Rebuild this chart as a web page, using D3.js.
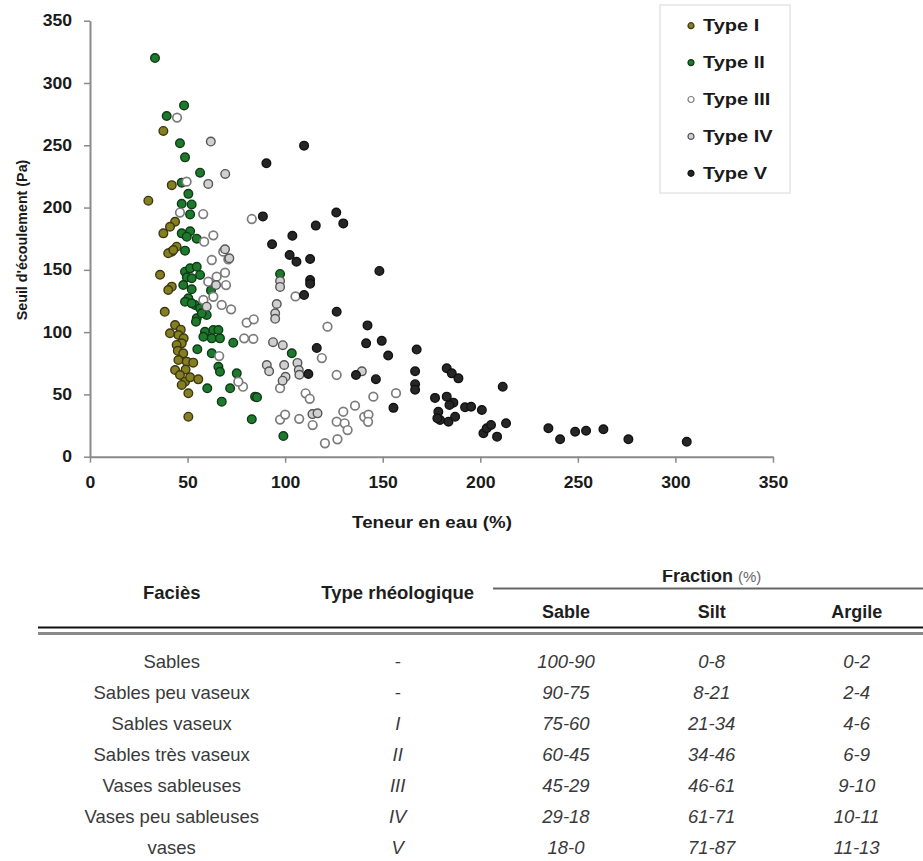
<!DOCTYPE html>
<html><head><meta charset="utf-8">
<script src="https://cdn.jsdelivr.net/npm/d3@7"></script>
<style>body{margin:0;background:#fff}svg{display:block}</style>
</head><body>
<script>
// ---------- Data ----------
const typeI = [[37.6,261.5],[41.9,218],[29.9,205.5],[43.6,188.6],[41,184.6],[37.6,179.3],[44.4,168.6],[41.9,164.6],[40.1,163.3],[42.7,165.9],[35.9,146],[41.9,136.5],[40.1,133.8],[38.3,116.3],[43.6,105.7],[46.5,102],[41,99.1],[45.3,97.7],[48,95],[47,91],[44.4,89.7],[45,85],[47.8,83],[45.3,77.6],[49.6,76.3],[52.9,75.5],[43.6,69.6],[49,70],[46.1,65.6],[48.7,60.2],[51.3,63.7],[55.5,62.1],[47,57.6],[50.4,50.9],[50.4,32.1]];
const typeII = [[33.3,320],[48.2,282],[39.3,273.5],[46.1,251.6],[48.7,240.3],[56.4,228],[47,220],[50.4,211],[47,203],[52.1,202.5],[51.3,194.5],[47,179.3],[51.3,181],[54.7,175],[49.6,176.6],[48.7,165.4],[48.7,148.5],[51.3,151.2],[54.7,152.5],[56.4,145.9],[49.6,144],[52.1,143.2],[47.8,137.8],[52.1,134.4],[62,133.5],[50.4,127.2],[53.8,121.8],[56.4,119.1],[59.8,113.8],[54.7,111.1],[57.3,115.1],[48.7,124.4],[52.1,123.1],[54.3,108.4],[58.9,100.3],[63.2,101.7],[65.8,101.7],[58.1,96.3],[62.4,95],[66.6,95],[73.4,91.5],[55,86.2],[62.4,83],[65.8,72.2],[66.6,68.2],[75.2,66.9],[60.1,54.9],[71.8,54.9],[67.5,44.2],[84.6,48.2],[85.6,47.7],[82.9,30],[97.4,146.7],[103.4,83],[99.1,16.6]];
const typeIII = [[44.6,272.2],[49.5,220.8],[46.1,196],[58,194.8],[82.9,190.8],[63.2,177.7],[58.5,172.6],[62.4,157.9],[70.9,158.5],[68.3,164.6],[69.2,147.7],[64.9,144.5],[60.6,140.5],[69.7,137.8],[58.1,125.8],[63.2,128.4],[67.5,121.8],[72.3,118.3],[80.3,107.6],[83.9,110.3],[79,95],[83.7,94.6],[66.2,80.8],[78.4,56.2],[76,60.2],[97.4,55],[97.4,29.8],[100,33.8],[107.2,30.4],[105.3,128.7],[121.7,104.4],[118.8,79.2],[126.4,65.6],[110.5,50.9],[112.6,46.5],[114.1,25.4],[120.4,10.8],[126.8,14],[126.4,28.1],[129.8,36.1],[130.5,26.8],[132,21.4],[135.8,41],[140.5,32],[142.7,33.8],[142.5,28],[145.2,48.2],[156.8,51]];
const typeIV = [[61.9,253],[69.3,227],[60.6,219],[69.2,166.5],[71.4,159.3],[64.6,137.8],[59.8,120.4],[97.4,141],[97.4,136.3],[95.7,122.6],[94.9,115.1],[94.9,110.7],[93.8,91.9],[98.8,89.5],[90.6,73.6],[91.8,68.6],[99.5,73.6],[100.2,64.2],[98.7,61],[106.3,75.3],[107,69.6],[107.3,65.8],[139.3,68.5],[114,34.2],[116.6,34.8]];
const typeV = [[90.4,235.5],[109.7,249.7],[88.6,192.9],[126.2,196],[129.8,187.3],[115.7,185.5],[103.7,177.3],[93.3,170.5],[102.3,161.9],[105.8,156.5],[112.8,158.7],[148.3,149.1],[112.8,141.8],[112.8,138.8],[109.7,129.8],[126.4,116.4],[142.2,105.4],[141.5,91],[149.5,93],[152.8,81.2],[167.4,86],[116.2,87.3],[111.9,66.4],[136.3,65.6],[146.5,62.2],[166.6,68.6],[166.6,58.2],[166.6,53.8],[182.8,71],[185.4,66.9],[188.8,62.9],[176.8,47.2],[182.8,48.2],[186.2,43.4],[184.2,41.5],[192.2,39.7],[195.3,40.1],[200.8,37.5],[178.5,36.1],[179.4,29.5],[178,30.8],[183.7,28.1],[187.1,32.1],[155.5,39.2],[201.6,18.8],[203.3,22.8],[205.5,25.5],[208.6,16.1],[211.5,56.2],[213.2,26.8],[234.9,22.8],[240.9,14],[248.6,20.1],[254.2,20.9],[263.1,22],[275.9,14],[305.8,12]];
const seriesNames = ["Type I","Type II","Type III","Type IV","Type V"];
const xTicks = [0,50,100,150,200,250,300,350];
const yTicks = [0,50,100,150,200,250,300,350];
const xTitle = "Teneur en eau (%)";
const yTitle = "Seuil d'écoulement (Pa)";

const tableHead = ["Faciès","Type rhéologique"];
const fractionHead = "Fraction";
const fractionUnit = "(%)";
const fractionCols = ["Sable","Silt","Argile"];
const facies = ["Sables","Sables peu vaseux","Sables vaseux","Sables très vaseux","Vases sableuses","Vases peu sableuses","vases"];
const rheoType = ["-","-","I","II","III","IV","V"];
const sable = ["100-90","90-75","75-60","60-45","45-29","29-18","18-0"];
const silt = ["0-8","8-21","21-34","34-46","46-61","61-71","71-87"];
const argile = ["0-2","2-4","4-6","6-9","9-10","10-11","11-13"];

// ---------- Styles ----------
const styles = [
  {fill:"#857f22", stroke:"#3b3810"},
  {fill:"#1d7a2c", stroke:"#0f3a16"},
  {fill:"#ffffff", stroke:"#7c7c7c"},
  {fill:"#d0d0d0", stroke:"#555555"},
  {fill:"#262626", stroke:"#111111"}
];
const allSeries = [typeI,typeII,typeIII,typeIV,typeV];

const W = 923, H = 861;
const svg = d3.select("body").append("svg").attr("width",W).attr("height",H)
  .style("font-family","'Liberation Sans', Arial, sans-serif");

const x = d3.scaleLinear().domain([0,350]).range([90,773]);
const y = d3.scaleLinear().domain([0,350]).range([456.7,20.7]);

// axes
const gx = svg.append("g").attr("transform","translate(0,456.7)")
  .call(d3.axisBottom(x).tickValues(xTicks).tickSize(6).tickPadding(14).tickSizeOuter(0));
const gy = svg.append("g").attr("transform","translate(90,0)")
  .call(d3.axisLeft(y).tickValues(yTicks).tickSize(6).tickPadding(10.4).tickSizeOuter(0));
[gx,gy].forEach(g=>{
  g.select(".domain").attr("stroke","#8a8a8a").attr("stroke-width",2);
  g.selectAll(".tick line").attr("stroke","#8a8a8a").attr("stroke-width",1.5);
  g.selectAll("text").attr("fill","#1a1a1a").style("font-size","16px").style("font-weight","bold")
    .attr("transform","scale(1.1,1)");
});

svg.append("text").attr("transform","translate(432,528) scale(1.17,1)").attr("text-anchor","middle")
  .style("font-size","16px").style("font-weight","bold").attr("fill","#1a1a1a").text(xTitle);
svg.append("text").attr("transform","translate(27,240) rotate(-90)").attr("text-anchor","middle")
  .style("font-size","14.3px").style("font-weight","bold").attr("fill","#1a1a1a").text(yTitle);

// points
allSeries.forEach((s,i)=>{
  svg.append("g").selectAll("circle").data(s).join("circle")
    .attr("cx",d=>x(d[0])).attr("cy",d=>y(d[1])).attr("r",4.3)
    .attr("fill",styles[i].fill).attr("stroke",styles[i].stroke).attr("stroke-width",i===2?1.7:1.4);
});

// legend
svg.append("rect").attr("x",660).attr("y",5).attr("width",130).attr("height",188)
  .attr("fill","#fff").attr("stroke","#d8d8d8").attr("stroke-width",1);
const lg = svg.append("g").selectAll("g").data(seriesNames).join("g")
  .attr("transform",(d,i)=>`translate(691,${25.7+i*36.9})`);
lg.append("circle").attr("r",3).attr("fill",(d,i)=>styles[i].fill).attr("stroke",(d,i)=>styles[i].stroke).attr("stroke-width",1.2);
lg.append("text").attr("x",9.6).attr("dy","0.36em").attr("transform","scale(1.25,1)")
  .style("font-size","16px").style("font-weight","bold")
  .attr("fill","#1a1a1a").text(d=>d);

// ---------- Table ----------
const t = svg.append("g");
const colX = [171.7,397.7,566,711.7,856.7];
t.selectAll("text.h").data(tableHead).join("text").attr("class","h")
  .attr("x",(d,i)=>colX[i]).attr("y",599).attr("text-anchor","middle")
  .style("font-size","18.5px").style("font-weight","bold").attr("fill","#1e1e1e").text(d=>d);

svg.append("clipPath").attr("id","fc").append("rect").attr("x",0).attr("y",570).attr("width",W).attr("height",40);
const ft = t.append("text").attr("clip-path","url(#fc)").attr("x",711.7).attr("y",582).attr("text-anchor","middle").attr("fill","#1e1e1e");
ft.append("tspan").style("font-size","18px").style("font-weight","bold").text(fractionHead+" ");
ft.append("tspan").style("font-size","15px").attr("fill","#666").text(fractionUnit);

t.append("line").attr("x1",493).attr("x2",923).attr("y1",588.5).attr("y2",588.5).attr("stroke","#666").attr("stroke-width",2);
t.selectAll("text.f").data(fractionCols).join("text").attr("class","f")
  .attr("x",(d,i)=>colX[i+2]).attr("y",618).attr("text-anchor","middle")
  .style("font-size","18px").style("font-weight","bold").attr("fill","#1e1e1e").text(d=>d);
t.append("line").attr("x1",38).attr("x2",923).attr("y1",627.5).attr("y2",627.5).attr("stroke","#111").attr("stroke-width",2);
t.append("line").attr("x1",38).attr("x2",923).attr("y1",633.5).attr("y2",633.5).attr("stroke","#8a8a8a").attr("stroke-width",3);

const rowY = d3.range(facies.length).map(i=>667.7+i*31.1);
const cols = [facies,rheoType,sable,silt,argile];
cols.forEach((col,ci)=>{
  t.append("g").selectAll("text").data(col).join("text")
    .attr("x",colX[ci]).attr("y",(d,i)=>rowY[i]).attr("text-anchor","middle")
    .style("font-size","18.5px").style("font-style",ci===0?"normal":"italic")
    .attr("fill","#3a3a3a").text(d=>d);
});
</script>
</body></html>
